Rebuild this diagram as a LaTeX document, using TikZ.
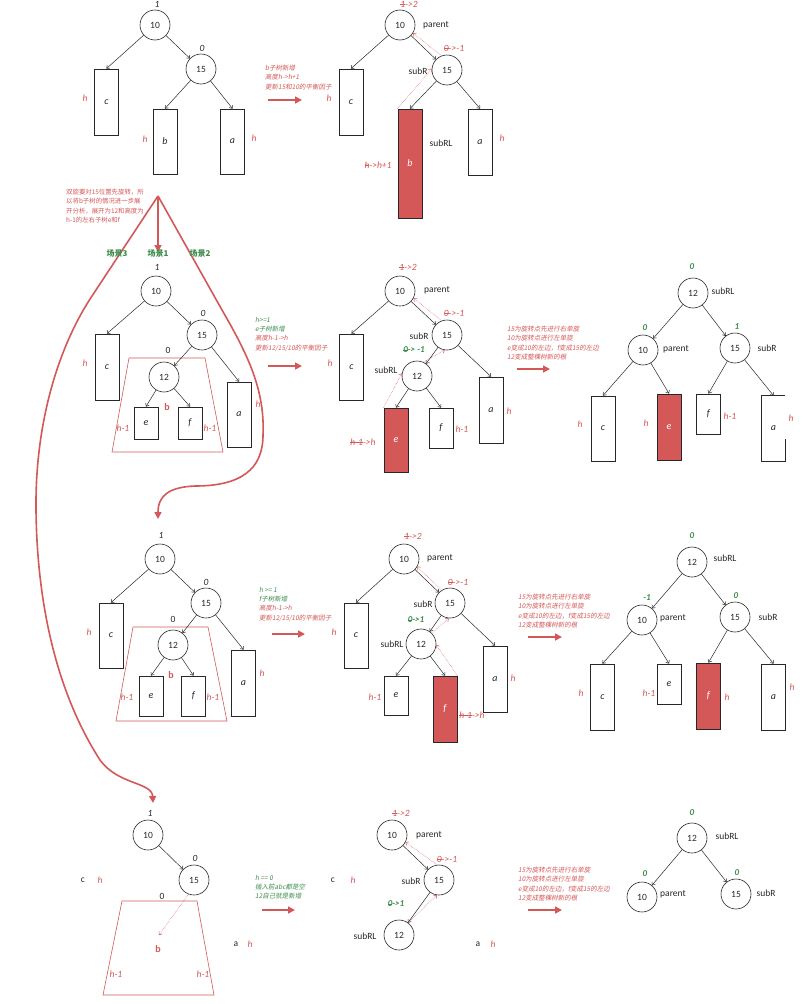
\documentclass[tikz,border=0pt]{standalone}
\usepackage{fontspec}
\setmainfont{Carlito}
\newfontfamily\cjk{Noto Sans CJK SC}
\newfontfamily\cjkit{Noto Sans CJK SC}[FakeSlant=0.18]
\usetikzlibrary{arrows.meta}
\definecolor{rd}{RGB}{212,88,88}
\definecolor{gn}{RGB}{60,140,75}
\definecolor{bd}{RGB}{40,40,40}
\newcommand\fsz[1]{\fontsize{#1}{#1}\selectfont}
\newcommand\strk[1]{\leavevmode\setbox0\hbox{#1}\rlap{\rule[0.28em]{\wd0}{0.45pt}}\box0}
\tikzset{
 nd/.style={circle,draw=bd,line width=0.6pt,minimum size=30pt,inner sep=0pt,font=\fsz{9.5},text=bd},
 bx/.style={draw=bd,line width=0.9pt,inner sep=0pt,font=\itshape\fsz{10},text=bd},
 rbx/.style={bx,fill=rd,text=white},
 ar/.style={draw=bd,line width=0.5pt,-{To[length=3pt,width=4.5pt]}},
 dar/.style={draw=rd,line width=0.5pt,densely dotted,-{To[length=3pt,width=4.5pt]}},
 lab/.style={font=\fsz{9.5},text=bd,inner sep=0pt},
 bf/.style={font=\itshape\fsz{9.5},text=bd,inner sep=0pt},
 rl/.style={font=\itshape\fsz{9.5},text=rd,inner sep=0pt},
 gl/.style={font=\itshape\bfseries\fsz{9},text=gn,inner sep=0pt},
 rbig/.style={draw=rd,line width=1.6pt,-{Triangle[length=7pt,width=7pt]}},
 note/.style={font=\cjkit\fontsize{6.5}{9.3}\selectfont,align=left,anchor=north west,inner sep=0pt},
 trap/.style={draw=rd,line width=0.6pt},
 scene/.style={font=\cjk\bfseries\fsz{8},text=gn,inner sep=0pt},
 bl/.style={font=\bfseries\fsz{10},text=rd,inner sep=0pt}
}
\begin{document}
\begin{tikzpicture}[x=1pt,y=-1pt]
\useasboundingbox (0,0) rectangle (806,1004);
\fill[white] (0,0) rectangle (806,1004);

% ---------- Panel 1 ----------
\node[nd] (a10) at (155,25) {10};
\node[nd] (a15) at (201,69) {15};
\node[bx,minimum width=24,minimum height=66] (ac) at (106.5,102) {c};
\node[bx,minimum width=24,minimum height=65] (ab) at (165,141.5) {b};
\node[bx,minimum width=24,minimum height=65] (aa) at (232.5,141.5) {a};
\node[bf] (a1l) at (157,4) {1};
\node[bf] (a0l) at (202,48) {0};
\node[rl] (ah1) at (85,98) {h};
\node[rl] (ah2) at (145,139) {h};
\node[rl] (ah3) at (254,138) {h};
\draw[ar] (a10) -- (ac.north);
\draw[ar] (a10) -- (a15);
\draw[ar] (a15) -- (ab.north);
\draw[ar] (a15) -- (aa.north);

% annotation 1
\node[note,text=rd] (n1) at (265,65) {b子树新增\\高度h->h+1\\更新15和10的平衡因子};
\coordinate (n1s) at (268,100); \coordinate (n1e) at (302,100);
\draw[rbig] (n1s) -- (n1e);

% ---------- Panel 2 ----------
\node[nd] (b10) at (400,25) {10};
\node[nd] (b15) at (447,70) {15};
\node[bx,minimum width=24,minimum height=66] (bc) at (351,102) {c};
\node[rbx,minimum width=24,minimum height=109] (bb) at (410,163.5) {b};
\node[bx,minimum width=24,minimum height=66] (ba) at (480,142) {a};
\node[lab] (bpar) at (436,25) {parent};
\node[lab] (bsr) at (418,71) {subR};
\node[lab] (bsrl) at (441,143) {subRL};
\node[rl] (bbf1) at (409,4) {\strk{1}->2};
\node[rl] (bbf2) at (454,48) {\strk{0}->-1};
\node[rl] (bh1) at (329,98) {h};
\node[rl] (bh2) at (378,165) {\strk{h}->h+1};
\node[rl] (bh3) at (502,138) {h};
\draw[ar] (b10) -- (bc.north);
\draw[ar] (b10) -- (b15);
\draw[ar] (b15) -- (bb.north);
\draw[ar] (b15) -- (ba.north);
\draw[dar] (bb.north west) -- (b15.175);
\draw[dar] (b15.111) -- (b10.-32);

% ---------- left explanation + scenes ----------
\node[font=\cjk\fontsize{6.4}{9.3}\selectfont,align=left,anchor=north west,inner sep=0pt,text=rd] (lx) at (66,189) {双旋要对15位置先旋转，所\\以将b子树的情况进一步展\\开分析，展开为12和高度为\\h-1的左右子树e和f};
\coordinate (apex) at (158,196);
\coordinate (s1end) at (158,252);
\coordinate (s3end) at (153,803);
\coordinate (s2end) at (158,519);
\draw[rbig] (apex) -- (s1end);
\draw[rbig] (apex) -- (92,296) .. controls (55,352) and (35,430) .. (36,510)
   .. controls (37,600) and (55,690) .. (100,760)
   .. controls (118,785) and (152,782) .. (s3end);
\draw[rbig] (apex) -- (222,310) .. controls (248,355) and (265,390) .. (263,435)
   .. controls (263,470) and (240,486) .. (195,486)
   .. controls (170,487) and (158,495) .. (s2end);
\node[scene] (sc3) at (117,254) {场景3};
\node[scene] (sc1) at (158,254) {场景1};
\node[scene] (sc2) at (200,254) {场景2};

% ---------- Panel 3 ----------
\node[nd] (c10) at (156,291) {10};
\node[nd] (c15) at (202,335) {15};
\node[nd] (c12) at (164,377) {12};
\node[bx,minimum width=24,minimum height=66] (cc) at (107,367) {c};
\node[bx,minimum width=24,minimum height=32] (ce) at (146,423) {e};
\node[bx,minimum width=24,minimum height=32] (cf) at (190,423) {f};
\node[bx,minimum width=24,minimum height=65] (ca) at (239,414.5) {a};
\draw[trap] (129,358) -- (205,358) -- (223,452) -- (112,452) -- cycle;
\node[bf] (c1l) at (157,267) {1};
\node[bf] (c0l) at (203,313) {0};
\node[lab] (c0b) at (168,350) {0};
\node[bl] (cb) at (167,407) {b};
\node[rl] (ch1) at (85,363) {h};
\node[rl] (ch2) at (123,428) {h-1};
\node[rl] (ch3) at (210,428) {h-1};
\node[rl] (ch4) at (258,404) {h};
\draw[ar] (c10) -- (cc.north);
\draw[ar] (c10) -- (c15);
\draw[ar] (c15) -- (c12);
\draw[ar] (c15) -- (ca.north);
\draw[ar] (c12) -- (ce.north);
\draw[ar] (c12) -- (cf.north);

% annotation 2
\node[note] (n2) at (255,317) {\textcolor{gn}{h>=1}\\\textcolor{gn}{e子树新增}\\\textcolor{rd}{高度h-1->h}\\\textcolor{rd}{更新12/15/10的平衡因子}};
\coordinate (n2s) at (268,366); \coordinate (n2e) at (302,366);
\draw[rbig] (n2s) -- (n2e);

% ---------- Panel 4 ----------
\node[nd] (d10) at (400,291) {10};
\node[nd] (d15) at (447,335) {15};
\node[nd] (d12) at (417,376) {12};
\node[bx,minimum width=24,minimum height=66] (dc) at (351.5,367) {c};
\node[rbx,minimum width=24,minimum height=64] (de) at (396,440) {e};
\node[bx,minimum width=24,minimum height=40] (df) at (441,428) {f};
\node[bx,minimum width=24,minimum height=66] (da) at (491,410) {a};
\node[lab] (dpar) at (437,290) {parent};
\node[lab] (dsr) at (419,336) {subR};
\node[lab] (dsrl) at (386,370) {subRL};
\node[rl] (dbf1) at (408,267) {\strk{1}->2};
\node[rl] (dbf2) at (454,313) {\strk{0}->-1};
\node[gl] (dbf3) at (414,350) {\strk{0} -> -1};
\node[rl] (dh1) at (330,363) {h};
\node[rl] (dh2) at (363,442) {\strk{h-1}->h};
\node[rl] (dh3) at (462,429) {h-1};
\node[rl] (dh4) at (509,411) {h};
\draw[ar] (d10) -- (dc.north);
\draw[ar] (d10) -- (d15);
\draw[ar] (d15) -- (d12);
\draw[ar] (d15) -- (da.north);
\draw[ar] (d12) -- (de.north);
\draw[ar] (d12) -- (df.north);
\draw[dar] (de.north west) -- (d12.170);
\draw[dar] (d12.65) -- (d15.261);
\draw[dar] (d15.111) -- (d10.-28);

% annotation 3
\node[note,text=rd] (n3) at (507,326) {15为旋转点先进行右单旋\\10为旋转点进行左单旋\\e变成10的左边，f变成15的左边\\12变成整棵树新的根};
\coordinate (n3s) at (517,369); \coordinate (n3e) at (550,369);
\draw[rbig] (n3s) -- (n3e);

% ---------- Panel 5 ----------
\node[nd] (e12) at (693,293) {12};
\node[nd] (e10) at (643,350) {10};
\node[nd] (e15) at (735,348) {15};
\node[bx,minimum width=24,minimum height=65] (ec) at (603,428.5) {c};
\node[rbx,minimum width=24,minimum height=66] (ee) at (669,427) {e};
\node[bx,minimum width=24,minimum height=40] (ef) at (708.5,414) {f};
\node[bx,draw=none,minimum width=23,minimum height=65] (ea) at (773.5,428.5) {a};
\draw[draw=bd,line width=0.9pt] (ea.north east) -- (ea.north west) -- (ea.south west) -- (ea.south east) -- ++(0,-22);
\node[gl] (e0a) at (692,267) {0};
\node[gl] (e0b) at (645,328) {0};
\node[gl] (e1c) at (737,327) {1};
\node[lab] (esrl) at (723,291) {subRL};
\node[lab] (epar) at (676,349) {parent};
\node[lab] (esr) at (767,348) {subR};
\node[rl] (eh1) at (580,424) {h};
\node[rl] (eh2) at (646,423) {h};
\node[rl] (eh3) at (730,416) {h-1};
\node[rl] (eh4) at (791,418) {h};
\draw[ar] (e12) -- (e10);
\draw[ar] (e12) -- (e15);
\draw[ar] (e10) -- (ec.north);
\draw[ar] (e10) -- (ee.north);
\draw[ar] (e15) -- (ef.north);
\draw[ar] (e15) -- (ea.north);

% ---------- Panel 6 (row 3 left) ----------
\node[nd] (f10) at (160,559) {10};
\node[nd] (f15) at (206,603) {15};
\node[nd] (f12) at (173,645) {12};
\node[bx,minimum width=24,minimum height=65] (fc) at (111,635.5) {c};
\node[bx,minimum width=24,minimum height=40] (fe) at (151,696) {e};
\node[bx,minimum width=24,minimum height=40] (ff) at (193.5,696) {f};
\node[bx,minimum width=24,minimum height=66] (fa) at (243.5,683) {a};
\draw[trap] (133,627) -- (208,627) -- (227,721) -- (116,721) -- cycle;
\node[bf] (f1l) at (161,535) {1};
\node[bf] (f0l) at (206,582) {0};
\node[lab] (f0b) at (173,619) {0};
\node[bl] (fb) at (171,675) {b};
\node[rl] (fh1) at (89,632) {h};
\node[rl] (fh2) at (127,697) {h-1};
\node[rl] (fh3) at (213,697) {h-1};
\node[rl] (fh4) at (262,673) {h};
\draw[ar] (f10) -- (fc.north);
\draw[ar] (f10) -- (f15);
\draw[ar] (f15) -- (f12);
\draw[ar] (f15) -- (fa.north);
\draw[ar] (f12) -- (fe.north);
\draw[ar] (f12) -- (ff.north);

% annotation 4
\node[note] (n4) at (259,587) {\textcolor{gn}{h >= 1}\\\textcolor{gn}{f子树新增}\\\textcolor{rd}{高度h-1->h}\\\textcolor{rd}{更新12/15/10的平衡因子}};
\coordinate (n4s) at (272,634); \coordinate (n4e) at (305,634);
\draw[rbig] (n4s) -- (n4e);

% ---------- Panel 7 (row 3 middle) ----------
\node[nd] (g10) at (404,559) {10};
\node[nd] (g15) at (450,603) {15};
\node[nd] (g12) at (421,644) {12};
\node[bx,minimum width=24,minimum height=65] (gc) at (356,635.5) {c};
\node[bx,minimum width=24,minimum height=39] (ge) at (396,695.5) {e};
\node[rbx,minimum width=24,minimum height=66] (gf) at (445,709) {f};
\node[bx,minimum width=24,minimum height=66] (ga) at (495,679) {a};
\node[lab] (gpar) at (440,558) {parent};
\node[lab] (gsr) at (423,604) {subR};
\node[lab] (gsrl) at (392,644) {subRL};
\node[rl] (gbf1) at (413,536) {\strk{1}->2};
\node[rl] (gbf2) at (458,582) {\strk{0}->-1};
\node[gl] (gbf3) at (416,620) {\strk{0}->1};
\node[rl] (gh1) at (334,632) {h};
\node[rl] (gh2) at (375,697) {h-1};
\node[rl] (gh3) at (472,715) {\strk{h-1}->h};
\node[rl] (gh4) at (513,678) {h};
\draw[ar] (g10) -- (gc.north);
\draw[ar] (g10) -- (g15);
\draw[ar] (g15) -- (g12);
\draw[ar] (g15) -- (ga.north);
\draw[ar] (g12) -- (ge.north);
\draw[ar] (g12) -- (gf.north);
\draw[dar] (gf.north east) -- (g12.-4);
\draw[dar] (g12.45) -- (g15.265);
\draw[dar] (g15.124) -- (g10.-30);

% annotation 5
\node[note,text=rd] (n5) at (518,594) {15为旋转点先进行右单旋\\10为旋转点进行左单旋\\e变成10的左边，f变成15的左边\\12变成整棵树新的根};
\coordinate (n5s) at (528,637); \coordinate (n5e) at (562,637);
\draw[rbig] (n5s) -- (n5e);

% ---------- Panel 8 (row 3 right) ----------
\node[nd] (h12) at (692,562) {12};
\node[nd] (h10) at (642,620) {10};
\node[nd] (h15) at (735,617) {15};
\node[bx,minimum width=24,minimum height=66] (hc) at (602.5,697) {c};
\node[bx,minimum width=24,minimum height=40] (he) at (669,684) {e};
\node[rbx,minimum width=24,minimum height=66] (hf) at (708.5,696) {f};
\node[bx,minimum width=24,minimum height=66] (ha) at (773.5,697) {a};
\node[gl] (h0a) at (692,536) {0};
\node[gl] (h1b) at (647,598) {-1};
\node[gl] (h0c) at (736,596) {0};
\node[lab] (hsrl) at (725,558) {subRL};
\node[lab] (hpar) at (673,618) {parent};
\node[lab] (hsr) at (768,617) {subR};
\node[rl] (hh1) at (581,693) {h};
\node[rl] (hh2) at (649,693) {h-1};
\node[rl] (hh3) at (727,697) {h};
\node[rl] (hh4) at (792,687) {h};
\draw[ar] (h12) -- (h10);
\draw[ar] (h12) -- (h15);
\draw[ar] (h10) -- (hc.north);
\draw[ar] (h10) -- (he.north);
\draw[ar] (h15) -- (hf.north);
\draw[ar] (h15) -- (ha.north);

% ---------- Panel 9 (row 4 left) ----------
\node[nd] (i10) at (148,835) {10};
\node[nd] (i15) at (194,880) {15};
\draw[trap] (122,901) -- (197,901) -- (214,995) -- (103,995) -- cycle;
\node[bf] (i1l) at (150,813) {1};
\node[bf] (i0l) at (195,858) {0};
\node[lab] (i0b) at (162,896) {0};
\node[bl] (ib) at (158,949) {b};
\node[lab] (ic) at (83,880) {c};
\node[rl] (ih1) at (100,880) {h};
\node[rl] (ih2) at (116,974) {h-1};
\node[rl] (ih3) at (203,974) {h-1};
\node[lab] (ia) at (236,944) {a};
\node[rl] (ih4) at (250,944) {h};
\coordinate (ibt) at (159,935);
\draw[ar] (i10) -- (i15);
\draw[dar] (i15.249) -- (ibt);

% annotation 6
\node[note,text=gn] (n6) at (255,875) {h == 0\\插入前abc都是空\\12自己就是新增};
\coordinate (n6s) at (262,910); \coordinate (n6e) at (295,910);
\draw[rbig] (n6s) -- (n6e);

% ---------- Panel 10 (row 4 middle) ----------
\node[nd] (j10) at (392,835) {10};
\node[nd] (j15) at (439,880) {15};
\node[nd] (j12) at (399,935) {12};
\node[lab] (jpar) at (429,835) {parent};
\node[lab] (jsr) at (411,881) {subR};
\node[lab] (jsrl) at (365,936) {subRL};
\node[rl] (jbf1) at (401,813) {\strk{1}->2};
\node[rl] (jbf2) at (447,859) {\strk{0}->-1};
\node[gl] (jbf3) at (396,904) {\strk{0}->1};
\node[lab] (jc) at (333,880) {c};
\node[rl] (jh1) at (353,880) {h};
\node[lab] (ja) at (478,944) {a};
\node[rl] (jh2) at (493,944) {h};
\draw[ar] (j10) -- (j15);
\draw[ar] (j15) -- (j12);
\draw[dar] (j12.54) -- (j15.262);
\draw[dar] (j15.97) -- (j10.-28);

% annotation 7
\node[note,text=rd] (n7) at (518,867) {15为旋转点先进行右单旋\\10为旋转点进行左单旋\\e变成10的左边，f变成15的左边\\12变成整棵树新的根};
\coordinate (n7s) at (528,910); \coordinate (n7e) at (562,910);
\draw[rbig] (n7s) -- (n7e);

% ---------- Panel 11 (row 4 right) ----------
\node[nd] (k12) at (692,838) {12};
\node[nd] (k10) at (642,897) {10};
\node[nd] (k15) at (736,894) {15};
\node[gl] (k0a) at (692,813) {0};
\node[gl] (k0b) at (645,874) {0};
\node[gl] (k0c) at (737,873) {0};
\node[lab] (ksrl) at (727,836) {subRL};
\node[lab] (kpar) at (673,894) {parent};
\node[lab] (ksr) at (766,893) {subR};
\draw[ar] (k12) -- (k10);
\draw[ar] (k12) -- (k15);
\end{tikzpicture}
\end{document}
